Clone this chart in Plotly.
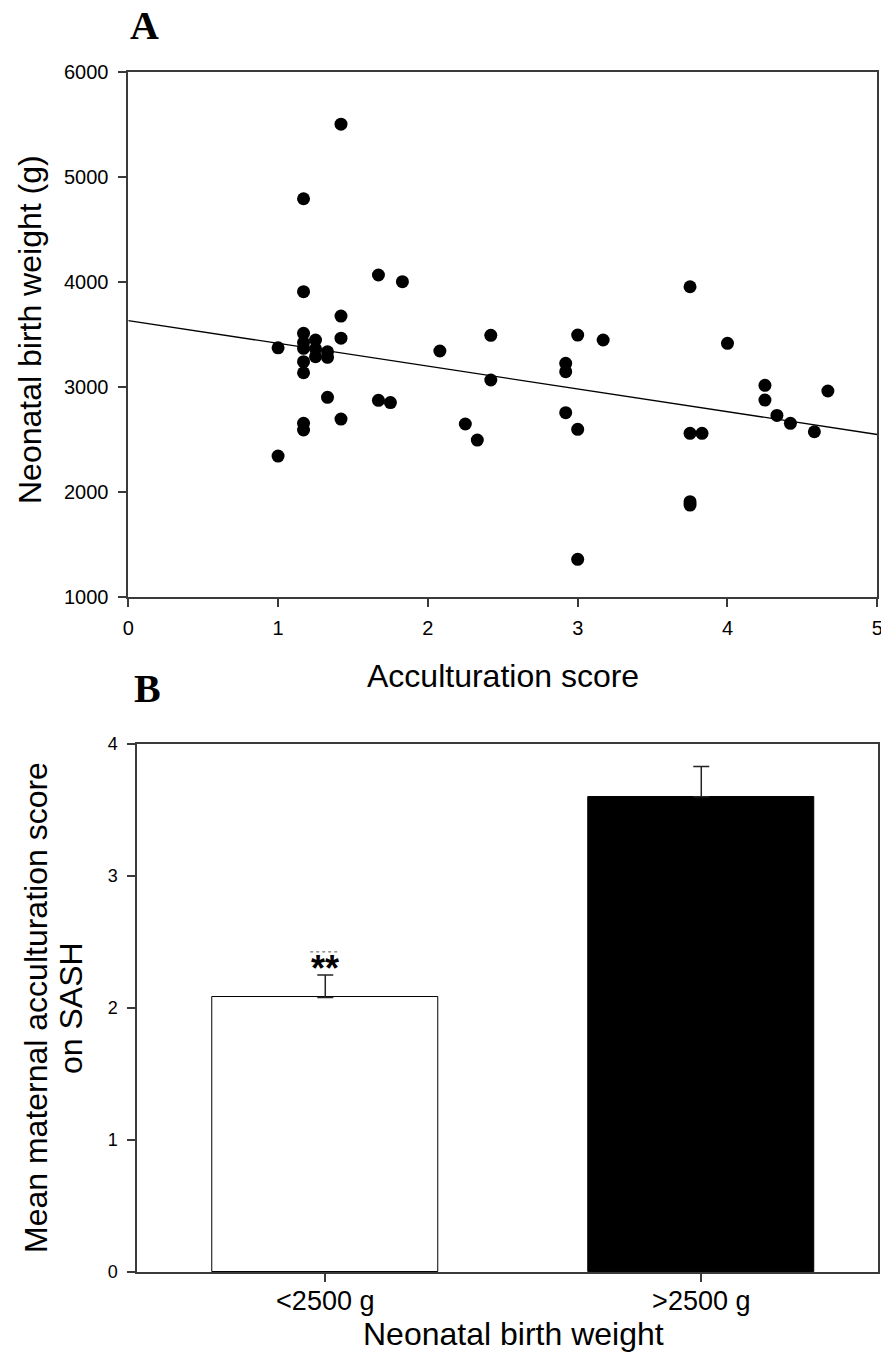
import plotly.graph_objects as go

# ---------------- Panel A data ----------------
accult = [1.00, 1.00,
          1.17, 1.17, 1.17, 1.17, 1.17, 1.17, 1.17, 1.17, 1.17,
          1.25, 1.25, 1.25,
          1.33, 1.33, 1.33,
          1.42, 1.42, 1.42, 1.42,
          1.67, 1.67, 1.75, 1.83, 2.08, 2.25, 2.33,
          2.42, 2.42,
          2.92, 2.92, 2.92,
          3.00, 3.00, 3.00,
          3.17,
          3.75, 3.75, 3.75, 3.75,
          3.83, 4.00, 4.25, 4.25, 4.33, 4.42, 4.58, 4.67]
weight = [3370, 2340,
          4790, 3905, 3508, 3420, 3366, 3238, 3133, 2651, 2588,
          3445, 3360, 3286,
          3333, 3280, 2899,
          5500, 3673, 3462, 2692,
          4064, 2870, 2849, 4000, 3340, 2645, 2492,
          3489, 3064,
          3223, 3143, 2753,
          3492, 2594, 1356,
          3445,
          3952, 2556, 1905, 1873,
          2556, 3413, 3013, 2873, 2727, 2651, 2571, 2959]
fit_intercept = 3630
fit_slope = -217
fit_x = [0, 5]
a_xticks = [0, 1, 2, 3, 4, 5]
a_yticks = [1000, 2000, 3000, 4000, 5000, 6000]

# ---------------- Panel B data ----------------
categories = ["<2500 g", ">2500 g"]
bar_pos = [1, 2]
means = [2.08, 3.60]
sem = [0.17, 0.23]
b_yticks = [0, 1, 2, 3, 4]

FONT = "Liberation Sans, Arial, sans-serif"
SERIF = "Liberation Serif, Times New Roman, serif"
AX = "#3a3a3a"

fig = go.Figure()
fig.add_trace(go.Scatter(x=accult, y=weight, mode="markers",
                         marker=dict(color="black", size=13, line=dict(width=0)),
                         xaxis="x", yaxis="y", showlegend=False))
fig.add_trace(go.Scatter(x=fit_x, y=[fit_intercept + fit_slope * v for v in fit_x],
                         mode="lines", line=dict(color="black", width=1.3),
                         xaxis="x", yaxis="y", showlegend=False))
fig.add_trace(go.Bar(x=bar_pos, y=means, width=0.6,
                     marker=dict(color=["white", "black"], line=dict(color="black", width=1)),
                     error_y=dict(type="data", array=sem, arrayminus=[0, 0], symmetric=False,
                                  color="#222", thickness=1.5, width=8),
                     xaxis="x2", yaxis="y2", showlegend=False))

common = dict(showgrid=False, zeroline=False, showline=True, linecolor=AX, linewidth=1.6,
              mirror=True, ticks="outside", ticklen=8, tickwidth=1.5, tickcolor=AX,
              automargin=False, ticklabeloverflow="allow")

fig.update_layout(
    width=881, height=1355, margin=dict(l=0, r=0, t=0, b=0, autoexpand=False),
    paper_bgcolor="white", plot_bgcolor="white", bargap=0,
    xaxis=dict(domain=[0.1456, 0.9958], range=[0, 5], tickvals=a_xticks, anchor="y",
               tickfont=dict(family=FONT, size=20, color="black"), ticklabelstandoff=4, **common),
    yaxis=dict(domain=[0.5596, 0.9471], range=[1000, 6000], tickvals=a_yticks, anchor="x",
               tickfont=dict(family=FONT, size=20, color="black"), ticklabelstandoff=6, **common),
    xaxis2=dict(domain=[0.1558, 0.9966], range=[0.5, 2.47], tickvals=bar_pos, ticktext=categories,
                anchor="y2", tickfont=dict(family=FONT, size=27, color="black"),
                ticklabelstandoff=-4, **common),
    yaxis2=dict(domain=[0.0613, 0.4509], range=[0, 4], tickvals=b_yticks, anchor="x2",
                tickfont=dict(family=FONT, size=18, color="black"), ticklabelstandoff=6, **common),
)

def px_ann(text, x, y, size, angle=0, family=FONT, bold=False):
    t = f"<b>{text}</b>" if bold else text
    fig.add_annotation(text=t, xref="paper", yref="paper", x=x / 881, y=1 - y / 1355,
                       xanchor="center", yanchor="middle", showarrow=False, textangle=angle,
                       font=dict(family=family, size=size, color="black"))

px_ann("A", 144, 26, 40, family=SERIF, bold=True)
px_ann("B", 147, 688, 40, family=SERIF, bold=True)
px_ann("Acculturation score", 503, 676, 32)
px_ann("Neonatal birth weight (g)", 30, 330, 32, angle=-90)
px_ann("Mean maternal acculturation score", 36, 1008, 32, angle=-90)
px_ann("on SASH", 71, 1008, 32, angle=-90)
px_ann("Neonatal birth weight", 513, 1334, 32)

# significance marker above the <2500 g bar
sig_top = means[0] + sem[0]
fig.add_annotation(text="<b>**</b>", xref="x2", yref="y2", x=bar_pos[0], y=sig_top + 0.05,
                   xanchor="center", yanchor="middle", showarrow=False,
                   font=dict(family=FONT, size=36, color="black"))
fig.add_shape(type="line", xref="x2", yref="y2", x0=bar_pos[0] - 0.04, x1=bar_pos[0] + 0.04,
              y0=sig_top + 0.175, y1=sig_top + 0.175, line=dict(color="#555", width=1, dash="dot"))

fig.write_html("out.html", config={"displayModeBar": False},
               post_script="document.body.style.margin='0';document.body.style.overflow='hidden';")
